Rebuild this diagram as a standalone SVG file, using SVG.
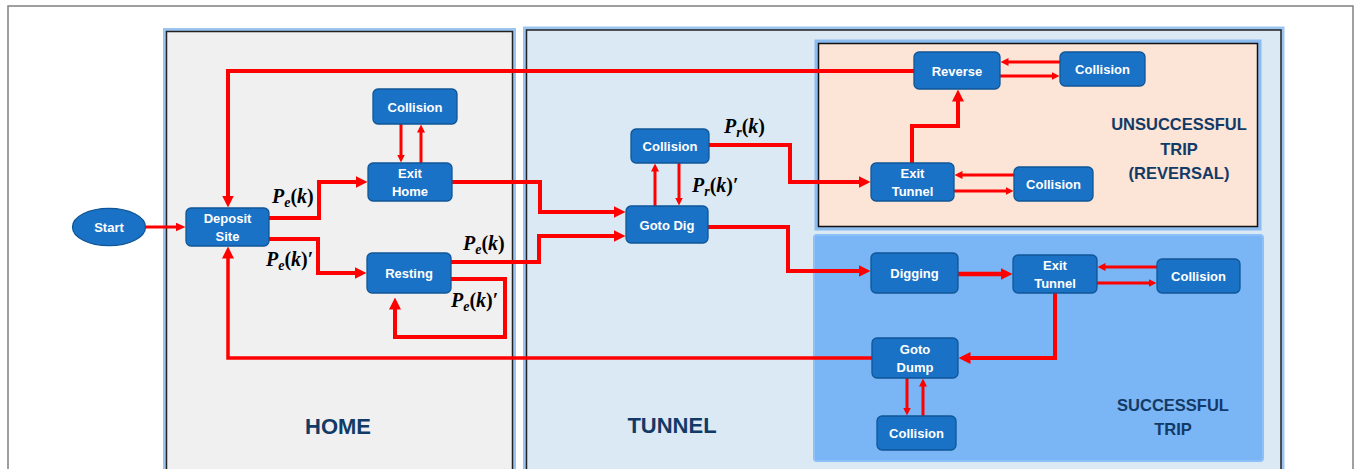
<svg xmlns="http://www.w3.org/2000/svg" width="1354" height="469" viewBox="0 0 1354 469">
<style>
.glow{fill:none;stroke:#9CC4F0;stroke-width:7}
.node rect,.node ellipse{fill:#1A72C6;stroke:#0F5696;stroke-width:1.3}
.node text{fill:#fff;font-family:"Liberation Sans",Arial,sans-serif;font-weight:bold;font-size:13px;text-anchor:middle}
.plabel{fill:#123A66;font-family:"Liberation Sans",Arial,sans-serif;font-weight:bold;text-anchor:middle}
.c{fill:none;stroke:#FF0000;stroke-linejoin:miter}
.w4{stroke-width:4}
.w3{stroke-width:3}
.m{font-family:"Liberation Serif","Times New Roman",serif;font-weight:bold;font-style:italic;font-size:20px;fill:#000}
.up{font-style:normal}
</style>
<defs>
<marker id="aL" viewBox="0 0 12 12" markerWidth="12" markerHeight="12" refX="0.5" refY="6" orient="auto" markerUnits="userSpaceOnUse"><path d="M0,0 L12,6 L0,12 Z" fill="#FF0000"/></marker>
<marker id="aM" viewBox="0 0 10 9" markerWidth="10" markerHeight="9" refX="0.5" refY="4.5" orient="auto" markerUnits="userSpaceOnUse"><path d="M0,0 L10,4.5 L0,9 Z" fill="#FF0000"/></marker>
<marker id="aS" viewBox="0 0 8 8" markerWidth="8" markerHeight="8" refX="0.5" refY="4" orient="auto" markerUnits="userSpaceOnUse"><path d="M0,0 L8,4 L0,8 Z" fill="#FF0000"/></marker>
</defs>

<rect x="8" y="6" width="1345" height="480" fill="#fff" stroke="#808080" stroke-width="1.5"/>

<g id="panel-home">
<rect class="glow" x="166.5" y="31.5" width="346" height="460"/>
<rect x="166.5" y="31.5" width="346" height="460" fill="#F0F0F0" stroke="#222" stroke-width="1.5"/>
<text class="plabel" x="338" y="434" font-size="22">HOME</text>
</g>
<g id="panel-tunnel">
<rect class="glow" x="526.5" y="30" width="754.5" height="460"/>
<rect x="526.5" y="30" width="754.5" height="460" fill="#DBE9F5" stroke="#222" stroke-width="1.5"/>
<text class="plabel" x="672" y="433" font-size="22">TUNNEL</text>
</g>
<g id="panel-unsuccessful">
<rect x="818.5" y="43.5" width="439" height="183" fill="none" stroke="#8DBCF0" stroke-width="8"/>
<rect x="818.5" y="43.5" width="439" height="183" fill="#FCE4D6" stroke="#111" stroke-width="1.5"/>
<text class="plabel" font-size="16.5"><tspan x="1179" y="130">UNSUCCESSFUL</tspan><tspan x="1179" y="155">TRIP</tspan><tspan x="1179" y="179">(REVERSAL)</tspan></text>
</g>
<g id="panel-successful">
<rect x="814" y="235" width="449" height="226" rx="3" fill="#7AB5F6" stroke="#8CC0F6" stroke-width="2"/>
<text class="plabel" font-size="16.5"><tspan x="1173" y="411">SUCCESSFUL</tspan><tspan x="1173" y="435">TRIP</tspan></text>
</g>

<g id="connectors">
<path class="c w3" d="M145.7,227 H176" marker-end="url(#aM)"/>
<path class="c w4" d="M269,218 H319 V182 H356" marker-end="url(#aL)"/>
<path class="c w4" d="M269,239 H318 V273 H355" marker-end="url(#aL)"/>
<path class="c w4" d="M452,182 H540 V212 H614" marker-end="url(#aL)"/>
<path class="c w4" d="M451,262 H539 V236 H614" marker-end="url(#aL)"/>
<path class="c w4" d="M451,279 H505 V337 H395 V309" marker-end="url(#aL)"/>
<path class="c" stroke-width="3.5" d="M872,358 H228 V258" marker-end="url(#aL)"/>
<path class="c w4" d="M914,71 H228 V196" marker-end="url(#aL)"/>
<path class="c w3" d="M401,124 V155" marker-end="url(#aS)"/>
<path class="c w3" d="M421,163 V132" marker-end="url(#aS)"/>
<path class="c w3" d="M655,206 V171" marker-end="url(#aS)"/>
<path class="c w3" d="M679,163 V198" marker-end="url(#aS)"/>
<path class="c w4" d="M709,145 H790 V182 H859" marker-end="url(#aL)"/>
<path class="c w4" d="M708,227 H788 V271 H859" marker-end="url(#aL)"/>
<path class="c w4" d="M912,163 V126 H958 V101" marker-end="url(#aL)"/>
<path class="c w3" d="M1060,62 H1008" marker-end="url(#aS)"/>
<path class="c w3" d="M1000,76 H1052" marker-end="url(#aS)"/>
<path class="c w3" d="M1014,175 H962" marker-end="url(#aS)"/>
<path class="c w3" d="M954,191 H1006" marker-end="url(#aS)"/>
<path class="c" stroke-width="4.5" d="M958,274 H1001" marker-end="url(#aL)"/>
<path class="c w3" d="M1157,267 H1105" marker-end="url(#aS)"/>
<path class="c w3" d="M1097,283 H1149" marker-end="url(#aS)"/>
<path class="c w4" d="M1055,293 V358 H970" marker-end="url(#aL)"/>
<path class="c w3" d="M907,378 V408" marker-end="url(#aS)"/>
<path class="c w3" d="M923,416 V386" marker-end="url(#aS)"/>
</g>

<g id="labels">
<text class="m" x="272" y="203">P<tspan font-size="14" dy="4">e</tspan><tspan class="up" dy="-4">(</tspan>k<tspan class="up">)</tspan></text>
<text class="m" x="266" y="266">P<tspan font-size="14" dy="4">e</tspan><tspan class="up" dy="-4">(</tspan>k<tspan class="up">)′</tspan></text>
<text class="m" x="463" y="250">P<tspan font-size="14" dy="4">e</tspan><tspan class="up" dy="-4">(</tspan>k<tspan class="up">)</tspan></text>
<text class="m" x="451" y="307">P<tspan font-size="14" dy="4">e</tspan><tspan class="up" dy="-4">(</tspan>k<tspan class="up">)′</tspan></text>
<text class="m" x="724" y="133">P<tspan font-size="14" dy="4">r</tspan><tspan class="up" dy="-4">(</tspan>k<tspan class="up">)</tspan></text>
<text class="m" x="692" y="192">P<tspan font-size="14" dy="4">r</tspan><tspan class="up" dy="-4">(</tspan>k<tspan class="up">)′</tspan></text>
</g>

<g id="start" class="node"><ellipse cx="109" cy="227" rx="36.5" ry="18.7"/><text x="109" y="232">Start</text></g>
<g id="deposit-site" class="node"><rect x="186" y="208" width="83" height="38" rx="5"/><text x="227.5" y="223">Deposit</text><text x="227.5" y="241">Site</text></g>
<g id="home-collision" class="node"><rect x="373" y="89" width="84" height="35" rx="5"/><text x="415" y="111.5">Collision</text></g>
<g id="exit-home" class="node"><rect x="368" y="163" width="84" height="38" rx="5"/><text x="410" y="178">Exit</text><text x="410" y="196">Home</text></g>
<g id="resting" class="node"><rect x="367" y="253" width="84" height="40" rx="5"/><text x="409" y="278">Resting</text></g>
<g id="tunnel-collision" class="node"><rect x="631" y="129" width="78" height="34" rx="5"/><text x="670" y="151">Collision</text></g>
<g id="goto-dig" class="node"><rect x="626" y="206" width="82" height="37" rx="5"/><text x="667" y="229.5">Goto Dig</text></g>
<g id="reverse" class="node"><rect x="914" y="52" width="86" height="37" rx="5"/><text x="957" y="75.5">Reverse</text></g>
<g id="reverse-collision" class="node"><rect x="1060" y="52" width="85" height="34" rx="5"/><text x="1102.5" y="74">Collision</text></g>
<g id="exit-tunnel-reversal" class="node"><rect x="871" y="163" width="83" height="38" rx="5"/><text x="912.5" y="178">Exit</text><text x="912.5" y="196">Tunnel</text></g>
<g id="exit-tunnel-reversal-collision" class="node"><rect x="1014" y="167" width="79" height="34" rx="5"/><text x="1053.5" y="189">Collision</text></g>
<g id="digging" class="node"><rect x="871" y="253" width="87" height="40" rx="5"/><text x="914.5" y="278">Digging</text></g>
<g id="exit-tunnel-success" class="node"><rect x="1013" y="255" width="84" height="38" rx="5"/><text x="1055" y="270">Exit</text><text x="1055" y="288">Tunnel</text></g>
<g id="exit-tunnel-success-collision" class="node"><rect x="1157" y="259" width="83" height="34" rx="5"/><text x="1198.5" y="281">Collision</text></g>
<g id="goto-dump" class="node"><rect x="872" y="338" width="86" height="40" rx="5"/><text x="915" y="354">Goto</text><text x="915" y="372">Dump</text></g>
<g id="dump-collision" class="node"><rect x="877" y="416" width="79" height="34" rx="5"/><text x="916.5" y="438">Collision</text></g>
</svg>
